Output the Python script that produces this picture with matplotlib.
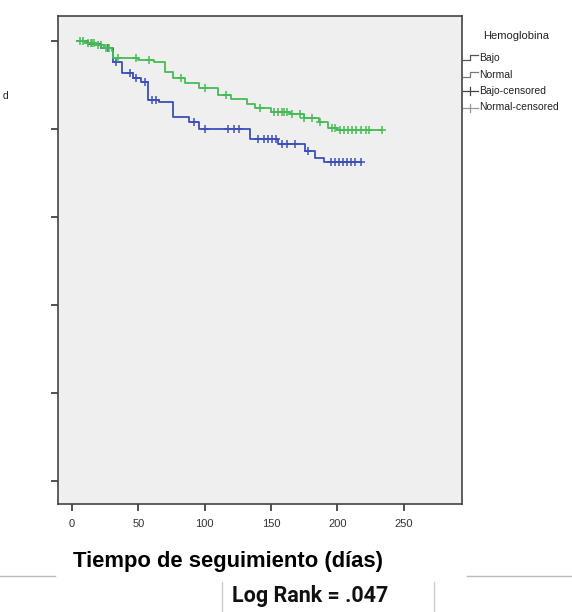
import numpy as np
import matplotlib
matplotlib.use("Agg")
import matplotlib.pyplot as plt
from matplotlib.lines import Line2D

# Kaplan-Meier steps (time in days, cumulative survival)
normal_t = [4, 10, 18, 24, 30, 31, 50, 62, 70, 76, 85, 96, 110, 120, 132, 138,
            150, 164, 175, 186, 193, 200, 234]
normal_s = [1.0, 0.995, 0.99, 0.984, 0.977, 0.961, 0.957, 0.952, 0.93, 0.916,
            0.905, 0.893, 0.877, 0.868, 0.857, 0.848, 0.839, 0.834, 0.825,
            0.816, 0.802, 0.798, 0.798]
normal_cens = [6, 8, 12, 14, 15, 17, 20, 22, 26, 28, 35, 48, 58, 82, 100, 116,
               142, 152, 155, 158, 160, 162, 166, 172, 175, 181, 187, 196, 198,
               202, 205, 208, 211, 214, 218, 222, 224, 234]

bajo_t = [4, 12, 22, 31, 38, 46, 52, 57, 66, 76, 88, 96, 134, 155, 176, 183,
          190, 218]
bajo_s = [1.0, 0.993, 0.984, 0.952, 0.927, 0.916, 0.907, 0.866, 0.861, 0.827,
          0.816, 0.80, 0.777, 0.766, 0.75, 0.734, 0.725, 0.725]
bajo_cens = [27, 33, 44, 48, 55, 60, 63, 92, 100, 118, 122, 126, 140, 145, 148,
             151, 154, 158, 162, 168, 178, 195, 198, 201, 204, 207, 210, 213,
             218]

x_ticks = [0, 50, 100, 150, 200, 250]
y_ticks = [0.0, 0.2, 0.4, 0.6, 0.8, 1.0]
legend_labels = ["Bajo", "Normal", "Bajo-censored", "Normal-censored"]

green = "#45bd52"
blue = "#3c4fba"
small = "Liberation Sans"

W, H = 572, 612
fig = plt.figure(figsize=(W / 100, H / 100), dpi=100)
fig.patch.set_facecolor("white")
ax = fig.add_axes([58 / W, 108 / H, 404 / W, 488 / H])
ax.set_facecolor("#efefef")


def surv_at(times, surv, t):
    i = np.searchsorted(times, t, side="right") - 1
    return np.asarray(surv)[np.clip(i, 0, len(surv) - 1)]


for t, s, c, col in [(bajo_t, bajo_s, bajo_cens, blue),
                     (normal_t, normal_s, normal_cens, green)]:
    ax.step(t, s, where="post", color=col, lw=1.3)
    ax.plot(c, surv_at(t, s, c), ls="none", marker="+", ms=6, mew=1.1,
            color=col)

ax.set_xlim(-10.5, 294)
ax.set_ylim(-0.052, 1.057)
ax.set_xticks(x_ticks)
ax.set_yticks(y_ticks)
ax.set_yticklabels([])
ax.set_xticklabels([str(v) for v in x_ticks], family=small, fontsize=8,
                   color="#333333")
ax.tick_params(length=5, width=1.2, color="#333333", pad=6)
for sp in ax.spines.values():
    sp.set_color("#444444")
    sp.set_linewidth(1.2)

# legend, SPSS style, drawn next to the plot
fig.text(516 / W, 1 - 36 / H, "Hemoglobina", family=small, fontsize=8,
         ha="center", va="center", color="#222222")
sym_cols = ["#555555", "#777777", "#444444", "#999999"]
for i, (lab, sc) in enumerate(zip(legend_labels, sym_cols)):
    yy = 58 + i * 16.5
    if i < 2:
        xs = [463, 470, 470, 478]
        ys = [yy + 2, yy + 2, yy - 3, yy - 3]
        fig.add_artist(Line2D(np.array(xs) / W, 1 - np.array(ys) / H,
                              color=sc, lw=0.9))
    else:
        fig.add_artist(Line2D(np.array([463, 478]) / W,
                              1 - np.array([yy, yy]) / H, color=sc, lw=0.9))
        fig.add_artist(Line2D(np.array([470, 470]) / W,
                              1 - np.array([yy - 4, yy + 4]) / H, color=sc,
                              lw=0.9))
    fig.text(479 / W, 1 - yy / H, lab, family=small, fontsize=7.5,
             va="center", ha="left", color="#222222")

fig.text(3 / W, 1 - 96 / H, "d", fontsize=7.5, family=small, va="center",
         color="#222222")

# caption pieces pasted below the chart
fig.add_artist(Line2D([0, 55 / W], [1 - 576 / H] * 2, color="#bbbbbb", lw=1))
fig.add_artist(Line2D([467 / W, 1], [1 - 576 / H] * 2, color="#bbbbbb", lw=1))
fig.add_artist(Line2D([222 / W] * 2, [0, 1 - 582 / H], color="#cccccc", lw=1))
fig.add_artist(Line2D([434 / W] * 2, [0, 1 - 582 / H], color="#cccccc", lw=1))
fig.text(228 / W, 1 - 562 / H, "Tiempo de seguimiento (días)",
         family="Liberation Sans", fontweight="bold", fontsize=15.8,
         ha="center", va="center", color="black")
fig.text(310 / W, 1 - 596 / H, "Log Rank = .047", family="Roboto",
         fontweight="bold", fontsize=15.5, ha="center", va="center",
         color="#111111")

fig.savefig("out.png", dpi=100)
